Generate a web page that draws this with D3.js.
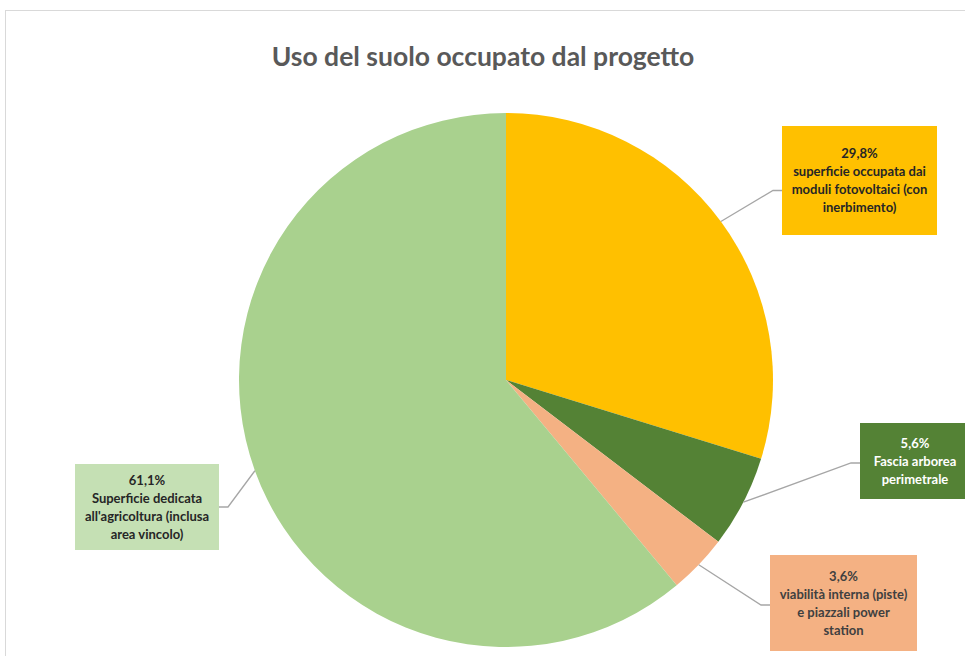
<!DOCTYPE html>
<html>
<head>
<meta charset="utf-8">
<script src="https://cdn.jsdelivr.net/npm/d3@7"></script>
<style>
  body { margin: 0; background: #fff; }
  svg text { font-family: Lato, "Open Sans", sans-serif; }
</style>
</head>
<body>
<svg id="chart" width="965" height="656"></svg>
<script>
var title = "Uso del suolo occupato dal progetto";
var categories = [
  "superficie occupata dai moduli fotovoltaici (con inerbimento)",
  "Fascia arborea perimetrale",
  "viabilità interna (piste) e piazzali power station",
  "Superficie dedicata all'agricoltura (inclusa area vincolo)"
];
var values = [29.8, 5.6, 3.6, 61.1];
var valueLabels = ["29,8%", "5,6%", "3,6%", "61,1%"];
// label text as wrapped in the picture
var labelLines = [
  ["superficie occupata dai", "moduli fotovoltaici (con", "inerbimento)"],
  ["Fascia arborea", "perimetrale"],
  ["viabilità interna (piste)", "e piazzali power", "station"],
  ["Superficie dedicata", "all'agricoltura (inclusa", "area vincolo)"]
];

var sliceColors = ["#FFC000", "#548235", "#F4B183", "#A9D18E"];
var boxColors = ["#FFC000", "#548235", "#F4B183", "#C5E0B4"];
var textColors = ["#262626", "#ffffff", "#404040", "#262626"];

// label boxes: x, y, w, h, leader offset from box middle, side the leader meets
var boxes = [
  {x: 782, y: 126, w: 155, h: 109, dy: 10, side: "left"},
  {x: 860, y: 423, w: 110, h: 76, dy: 2, side: "left"},
  {x: 770, y: 555, w: 147, h: 96, dy: 2, side: "left"},
  {x: 75, y: 464, w: 144, h: 86, dy: 0, side: "right"}
];

var svg = d3.select("#chart");

// chart area border
svg.append("rect")
   .attr("x", 5.5).attr("y", 10.5)
   .attr("width", 980).attr("height", 660)
   .attr("fill", "#fff")
   .attr("stroke", "#d9d9d9");

svg.append("text")
   .attr("x", 483).attr("y", 66)
   .attr("text-anchor", "middle")
   .attr("font-size", 26.5)
   .attr("font-weight", "bold")
   .attr("fill", "#595959")
   .text(title);

var cx = 506, cy = 380, r = 267;

var pie = d3.pie().sort(null).value(function(d){ return d; });
var arcs = pie(values);
var arc = d3.arc().innerRadius(0).outerRadius(r);

var g = svg.append("g").attr("transform", "translate(" + cx + "," + cy + ")");

g.selectAll("path")
  .data(arcs)
  .enter().append("path")
    .attr("d", arc)
    .attr("fill", function(d, i){ return sliceColors[i]; });

// leader lines
arcs.forEach(function(d, i){
  var mid = (d.startAngle + d.endAngle) / 2;
  var px = cx + r * Math.sin(mid);
  var py = cy - r * Math.cos(mid);
  var b = boxes[i];
  var ey = b.y + b.h / 2 + b.dy;
  var ex = b.side === "left" ? b.x : b.x + b.w;
  var kx = b.side === "left" ? ex - 9 : ex + 9;
  svg.append("polyline")
     .attr("points", px + "," + py + " " + kx + "," + ey + " " + ex + "," + ey)
     .attr("fill", "none")
     .attr("stroke", "#a6a6a6")
     .attr("stroke-width", 1.3);
});

// label boxes
boxes.forEach(function(b, i){
  svg.append("rect")
     .attr("x", b.x).attr("y", b.y)
     .attr("width", b.w).attr("height", b.h)
     .attr("fill", boxColors[i]);

  var lines = [valueLabels[i]].concat(labelLines[i]);
  var lh = 18;
  var top = b.y + b.h / 2 - (lines.length - 1) * lh / 2;
  var t = svg.append("text")
     .attr("text-anchor", "middle")
     .attr("font-size", 13)
     .attr("font-weight", "bold")
     .attr("fill", textColors[i]);
  lines.forEach(function(s, j){
    t.append("tspan")
     .attr("x", b.x + b.w / 2)
     .attr("y", top + j * lh)
     .attr("dy", "0.35em")
     .text(s);
  });
});
</script>
</body>
</html>
